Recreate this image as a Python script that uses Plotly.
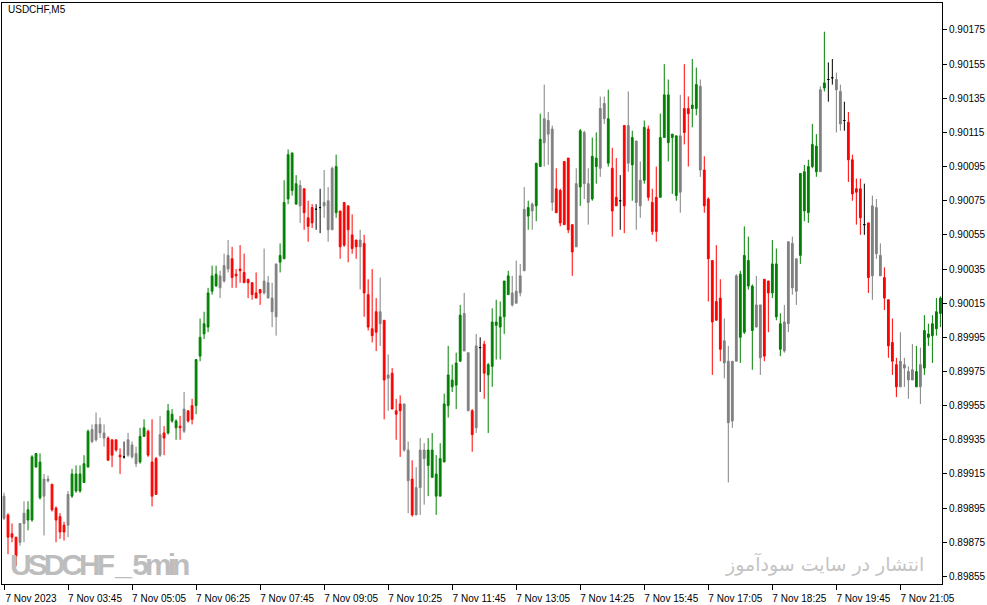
import plotly.graph_objects as go

# ---------------- data (USDCHF M5, 7 Nov 2023, bars from 02:25) ----------------
bar_color = list(
    "nrrrnngggg" "nnrrrrnggg" "ggnnnnrrrr" "dnnnggrrrn" "rgggrnrrgg"
    "ggggnnnrrr" "rrrrrnnnng" "ggggnrrrdd" "nnngrrrrrn" "rrrrnrnrrr"
    "nnrnnngggg" "gggggnnrnd" "rggggggnnn" "ngnggnnnrr" "rrrngnnggn"
    "ngrrdrngnn" "grrrgggggn" "rrggnrrrrr" "nnnnggggnn" "rrgggnnnng"
    "ggggngddnn" "drrrrdrnnn" "rrrrnnnngn" "ggggg"
)

open_ = [
    0.89902, 0.89891, 0.89880, 0.89878, 0.89875, 0.89886, 0.89888, 0.89888, 0.89919, 0.89922,
    0.89902, 0.89912, 0.89909, 0.89895, 0.89890, 0.89885, 0.89885, 0.89902, 0.89915, 0.89905,
    0.89910, 0.89919, 0.89941, 0.89935, 0.89944, 0.89939, 0.89936, 0.89935, 0.89935, 0.89926,
    0.89925, 0.89926, 0.89932, 0.89927, 0.89922, 0.89937, 0.89940, 0.89922, 0.89903, 0.89926,
    0.89939, 0.89939, 0.89946, 0.89946, 0.89943, 0.89940, 0.89952, 0.89955, 0.89955, 0.89984,
    0.89997, 0.90001, 0.90022, 0.90025, 0.90031, 0.90028, 0.90035, 0.90041, 0.90032, 0.90035,
    0.90033, 0.90029, 0.90027, 0.90021, 0.90023, 0.90021, 0.90027, 0.90018, 0.90007, 0.90039,
    0.90041, 0.90076, 0.90103, 0.90085, 0.90072, 0.90082, 0.90065, 0.90071, 0.90070, 0.90071,
    0.90072, 0.90075, 0.90058, 0.90095, 0.90069, 0.90074, 0.90072, 0.90055, 0.90052, 0.90048,
    0.90050, 0.90020, 0.90000, 0.90010, 0.90003, 0.90005, 0.89971, 0.89974, 0.89952, 0.89956,
    0.89956, 0.89929, 0.89912, 0.89891, 0.89907, 0.89929, 0.89920, 0.89929, 0.89915, 0.89902,
    0.89922, 0.89955, 0.89970, 0.89967, 0.89981, 0.90009, 0.89986, 0.89952, 0.89942, 0.89989,
    0.89991, 0.89973, 0.89978, 0.90002, 0.90001, 0.90007, 0.90020, 0.90021, 0.90015, 0.90021,
    0.90034, 0.90066, 0.90069, 0.90072, 0.90095, 0.90109, 0.90122, 0.90117, 0.90082, 0.90081,
    0.90098, 0.90100, 0.90061, 0.90048, 0.90083, 0.90115, 0.90085, 0.90076, 0.90100, 0.90094,
    0.90123, 0.90123, 0.90094, 0.90077, 0.90075, 0.90072, 0.90119, 0.90096, 0.90110, 0.90072,
    0.90087, 0.90117, 0.90074, 0.90077, 0.90077, 0.90112, 0.90137, 0.90112, 0.90113, 0.90080,
    0.90129, 0.90129, 0.90129, 0.90129, 0.90142, 0.90093, 0.90076, 0.90040, 0.90016, 0.90018,
    0.89993, 0.89981, 0.89946, 0.89981, 0.90032, 0.89998, 0.90040, 0.90025, 0.90001, 0.90014,
    0.90029, 0.90028, 0.90021, 0.90038, 0.90003, 0.89987, 0.90003, 0.90050, 0.90041, 0.90043,
    0.90092, 0.90068, 0.90095, 0.90107, 0.90092, 0.90141, 0.90146, 0.90147, 0.90146, 0.90139,
    0.90122, 0.90121, 0.90099, 0.90082, 0.90082, 0.90061, 0.90062, 0.90031, 0.90071, 0.90043,
    0.90030, 0.90017, 0.89992, 0.89979, 0.89966, 0.89979, 0.89975, 0.89970, 0.89975, 0.89966,
    0.89977, 0.89997, 0.89996, 0.90000, 0.90009,
]

high = [
    0.89904, 0.89892, 0.89886, 0.89878, 0.89886, 0.89899, 0.89899, 0.89926, 0.89927, 0.89927,
    0.89915, 0.89914, 0.89909, 0.89896, 0.89892, 0.89887, 0.89905, 0.89918, 0.89920, 0.89920,
    0.89926, 0.89941, 0.89944, 0.89951, 0.89948, 0.89944, 0.89937, 0.89935, 0.89935, 0.89930,
    0.89934, 0.89939, 0.89934, 0.89931, 0.89942, 0.89947, 0.89941, 0.89947, 0.89925, 0.89949,
    0.89943, 0.89956, 0.89953, 0.89947, 0.89949, 0.89963, 0.89952, 0.89959, 0.89982, 0.90006,
    0.90010, 0.90024, 0.90037, 0.90037, 0.90034, 0.90044, 0.90052, 0.90048, 0.90035, 0.90049,
    0.90044, 0.90029, 0.90027, 0.90033, 0.90023, 0.90047, 0.90031, 0.90027, 0.90038, 0.90050,
    0.90087, 0.90105, 0.90103, 0.90090, 0.90087, 0.90082, 0.90075, 0.90073, 0.90073, 0.90082,
    0.90093, 0.90083, 0.90095, 0.90102, 0.90069, 0.90074, 0.90072, 0.90067, 0.90052, 0.90058,
    0.90055, 0.90029, 0.90035, 0.90018, 0.90030, 0.90005, 0.89985, 0.89977, 0.89959, 0.89961,
    0.89956, 0.89934, 0.89923, 0.89919, 0.89936, 0.89933, 0.89936, 0.89939, 0.89926, 0.89933,
    0.89962, 0.89990, 0.89979, 0.89986, 0.90014, 0.90021, 0.89986, 0.89953, 0.89997, 0.89995,
    0.89993, 0.89980, 0.90012, 0.90017, 0.90016, 0.90028, 0.90034, 0.90031, 0.90040, 0.90038,
    0.90083, 0.90075, 0.90074, 0.90097, 0.90126, 0.90143, 0.90127, 0.90119, 0.90094, 0.90082,
    0.90098, 0.90100, 0.90061, 0.90094, 0.90117, 0.90116, 0.90094, 0.90112, 0.90115, 0.90136,
    0.90136, 0.90140, 0.90106, 0.90100, 0.90090, 0.90119, 0.90139, 0.90116, 0.90110, 0.90098,
    0.90122, 0.90119, 0.90082, 0.90095, 0.90126, 0.90155, 0.90146, 0.90114, 0.90113, 0.90137,
    0.90155, 0.90136, 0.90158, 0.90153, 0.90146, 0.90101, 0.90077, 0.90040, 0.90049, 0.90029,
    0.90006, 0.89990, 0.89981, 0.90032, 0.90034, 0.90060, 0.90054, 0.90026, 0.90031, 0.90014,
    0.90029, 0.90028, 0.90052, 0.90047, 0.90009, 0.90014, 0.90051, 0.90054, 0.90041, 0.90091,
    0.90096, 0.90099, 0.90120, 0.90114, 0.90142, 0.90174, 0.90156, 0.90158, 0.90150, 0.90143,
    0.90133, 0.90127, 0.90102, 0.90088, 0.90088, 0.90085, 0.90062, 0.90078, 0.90076, 0.90050,
    0.90036, 0.90017, 0.90006, 0.89983, 0.89998, 0.89983, 0.89978, 0.89991, 0.89990, 0.89989,
    0.90008, 0.90003, 0.90008, 0.90018, 0.90019,
]

low = [
    0.89888, 0.89868, 0.89875, 0.89861, 0.89873, 0.89875, 0.89882, 0.89887, 0.89919, 0.89900,
    0.89879, 0.89910, 0.89893, 0.89875, 0.89877, 0.89876, 0.89878, 0.89901, 0.89904, 0.89904,
    0.89910, 0.89919, 0.89933, 0.89934, 0.89936, 0.89931, 0.89923, 0.89919, 0.89928, 0.89915,
    0.89924, 0.89925, 0.89924, 0.89919, 0.89921, 0.89937, 0.89925, 0.89896, 0.89903, 0.89925,
    0.89926, 0.89938, 0.89945, 0.89935, 0.89935, 0.89939, 0.89945, 0.89944, 0.89950, 0.89981,
    0.89994, 0.89998, 0.90020, 0.90025, 0.90018, 0.90027, 0.90033, 0.90024, 0.90024, 0.90027,
    0.90027, 0.90018, 0.90017, 0.90018, 0.90014, 0.90020, 0.90018, 0.90001, 0.89996, 0.90033,
    0.90041, 0.90073, 0.90078, 0.90073, 0.90062, 0.90058, 0.90051, 0.90059, 0.90058, 0.90056,
    0.90065, 0.90051, 0.90058, 0.90065, 0.90041, 0.90048, 0.90039, 0.90044, 0.90041, 0.90023,
    0.90007, 0.89999, 0.89992, 0.89987, 0.89990, 0.89947, 0.89952, 0.89953, 0.89935, 0.89925,
    0.89928, 0.89892, 0.89890, 0.89891, 0.89891, 0.89897, 0.89902, 0.89913, 0.89891, 0.89902,
    0.89922, 0.89948, 0.89963, 0.89953, 0.89981, 0.89987, 0.89952, 0.89928, 0.89939, 0.89963,
    0.89959, 0.89939, 0.89966, 0.89982, 0.89982, 0.89997, 0.90020, 0.90013, 0.90015, 0.90019,
    0.90034, 0.90058, 0.90058, 0.90063, 0.90095, 0.90095, 0.90096, 0.90069, 0.90068, 0.90060,
    0.90061, 0.90056, 0.90031, 0.90048, 0.90072, 0.90076, 0.90061, 0.90075, 0.90085, 0.90089,
    0.90120, 0.90095, 0.90054, 0.90072, 0.90058, 0.90056, 0.90092, 0.90075, 0.90058, 0.90065,
    0.90085, 0.90075, 0.90055, 0.90051, 0.90077, 0.90112, 0.90098, 0.90079, 0.90075, 0.90068,
    0.90108, 0.90095, 0.90118, 0.90125, 0.90089, 0.90068, 0.90016, 0.89973, 0.90005, 0.89981,
    0.89971, 0.89910, 0.89942, 0.89981, 0.89980, 0.89997, 0.90023, 0.89976, 0.90001, 0.89973,
    0.89981, 0.89998, 0.90018, 0.90005, 0.89984, 0.89986, 0.89998, 0.90020, 0.90014, 0.90038,
    0.90063, 0.90062, 0.90094, 0.90089, 0.90092, 0.90139, 0.90133, 0.90143, 0.90115, 0.90116,
    0.90116, 0.90086, 0.90075, 0.90061, 0.90055, 0.90055, 0.90021, 0.90017, 0.90041, 0.90031,
    0.90011, 0.89983, 0.89973, 0.89960, 0.89966, 0.89966, 0.89959, 0.89970, 0.89966, 0.89956,
    0.89973, 0.89990, 0.89980, 0.89996, 0.90001,
]

close = [
    0.89889, 0.89878, 0.89878, 0.89867, 0.89886, 0.89892, 0.89894, 0.89925, 0.89927, 0.89901,
    0.89912, 0.89911, 0.89894, 0.89888, 0.89881, 0.89881, 0.89903, 0.89915, 0.89905, 0.89915,
    0.89921, 0.89940, 0.89934, 0.89944, 0.89939, 0.89936, 0.89923, 0.89926, 0.89929, 0.89925,
    0.89925, 0.89935, 0.89925, 0.89921, 0.89937, 0.89942, 0.89926, 0.89902, 0.89924, 0.89938,
    0.89936, 0.89952, 0.89950, 0.89942, 0.89942, 0.89953, 0.89946, 0.89947, 0.89982, 0.89995,
    0.90003, 0.90021, 0.90031, 0.90032, 0.90024, 0.90037, 0.90043, 0.90030, 0.90031, 0.90034,
    0.90027, 0.90027, 0.90020, 0.90018, 0.90021, 0.90028, 0.90018, 0.90010, 0.90038, 0.90043,
    0.90074, 0.90102, 0.90081, 0.90073, 0.90084, 0.90068, 0.90060, 0.90062, 0.90070, 0.90071,
    0.90074, 0.90058, 0.90094, 0.90068, 0.90048, 0.90049, 0.90058, 0.90047, 0.90048, 0.90052,
    0.90021, 0.90001, 0.89996, 0.89998, 0.90010, 0.89970, 0.89973, 0.89953, 0.89950, 0.89952,
    0.89929, 0.89911, 0.89891, 0.89907, 0.89929, 0.89924, 0.89929, 0.89913, 0.89902, 0.89924,
    0.89956, 0.89973, 0.89966, 0.89980, 0.90008, 0.89987, 0.89952, 0.89938, 0.89990, 0.89989,
    0.89974, 0.89979, 0.90004, 0.90004, 0.90007, 0.90028, 0.90031, 0.90014, 0.90022, 0.90031,
    0.90070, 0.90071, 0.90073, 0.90097, 0.90111, 0.90123, 0.90114, 0.90074, 0.90068, 0.90062,
    0.90061, 0.90058, 0.90045, 0.90085, 0.90116, 0.90085, 0.90074, 0.90101, 0.90095, 0.90129,
    0.90132, 0.90097, 0.90069, 0.90072, 0.90075, 0.90119, 0.90097, 0.90112, 0.90074, 0.90087,
    0.90118, 0.90077, 0.90057, 0.90057, 0.90112, 0.90137, 0.90109, 0.90114, 0.90078, 0.90113,
    0.90115, 0.90126, 0.90131, 0.90143, 0.90093, 0.90072, 0.90041, 0.90004, 0.90005, 0.89988,
    0.89980, 0.89945, 0.89981, 0.90031, 0.89995, 0.90043, 0.90025, 0.89999, 0.90014, 0.89983,
    0.89984, 0.90021, 0.90038, 0.90007, 0.89988, 0.90004, 0.90051, 0.90024, 0.90022, 0.90091,
    0.90069, 0.90095, 0.90108, 0.90092, 0.90140, 0.90144, 0.90146, 0.90147, 0.90140, 0.90120,
    0.90122, 0.90099, 0.90079, 0.90080, 0.90065, 0.90061, 0.90030, 0.90072, 0.90044, 0.90031,
    0.90018, 0.89990, 0.89981, 0.89966, 0.89981, 0.89977, 0.89970, 0.89976, 0.89966, 0.89979,
    0.89999, 0.89995, 0.90003, 0.90010, 0.90018,
]

tick_bars = [0, 16, 32, 48, 64, 80, 96, 112, 128, 144, 160, 176, 192, 208, 224]
tick_labels = [
    "7 Nov 2023", "7 Nov 03:45", "7 Nov 05:05", "7 Nov 06:25", "7 Nov 07:45",
    "7 Nov 09:05", "7 Nov 10:25", "7 Nov 11:45", "7 Nov 13:05", "7 Nov 14:25",
    "7 Nov 15:45", "7 Nov 17:05", "7 Nov 18:25", "7 Nov 19:45", "7 Nov 21:05",
]

# ---------------- figure ----------------
palette = {"g": "#008000", "r": "#ff0000", "n": "#808080", "d": "#000000"}
fig = go.Figure()
for key, col in palette.items():
    idx = [i for i, c in enumerate(bar_color) if c == key]
    style = dict(line=dict(color=col, width=1), fillcolor=col)
    fig.add_trace(go.Candlestick(
        x=idx,
        open=[open_[i] for i in idx],
        high=[high[i] for i in idx],
        low=[low[i] for i in idx],
        close=[close[i] for i in idx],
        increasing=style, decreasing=style,
        whiskerwidth=0, hoverinfo="skip", showlegend=False,
    ))

axis_font = dict(family="Liberation Sans, Arial, sans-serif", size=10, color="black")

fig.update_layout(
    width=987, height=605,
    margin=dict(l=2, r=45, t=3, b=21, autoexpand=False),
    paper_bgcolor="white", plot_bgcolor="white",
    showlegend=False, boxgap=0.36,
    xaxis=dict(
        range=[-0.5, 234.4], rangeslider=dict(visible=False),
        tickmode="array", tickvals=tick_bars, ticktext=tick_labels,
        ticks="outside", ticklen=5, tickcolor="black", tickwidth=1,
        showline=True, mirror=True, linecolor="black", linewidth=1,
        showgrid=False, zeroline=False, tickfont=axis_font,
        ticklabelshift=27, automargin=False,
    ),
    yaxis=dict(
        side="right", range=[0.8985055, 0.901908],
        tickmode="linear", tick0=0.89855, dtick=0.0002, tickformat=".5f",
        ticks="outside", ticklen=4, tickcolor="black", tickwidth=1,
        showline=True, mirror=True, linecolor="black", linewidth=1,
        showgrid=False, zeroline=False, tickfont=axis_font, automargin=False,
    ),
)

fig.add_annotation(
    text="USDCHF,M5", xref="paper", yref="paper", x=0.004, y=0.988,
    xanchor="left", yanchor="middle", showarrow=False,
    font=dict(family="Liberation Sans, Arial, sans-serif", size=10, color="black"),
)
fig.add_annotation(
    text="<b><span style='letter-spacing:-4px'>USDCHF _ 5min</span></b>",
    xref="paper", yref="paper", x=0.006, y=0.034,
    xanchor="left", yanchor="middle", showarrow=False,
    font=dict(family="Liberation Sans, Arial, sans-serif", size=30, color="#bdbdbd"),
)
fig.add_annotation(
    text="انتشار در سایت سودآموز", xref="paper", yref="paper", x=0.983, y=0.034,
    xanchor="right", yanchor="middle", showarrow=False,
    font=dict(family="DejaVu Sans, sans-serif", size=19, color="#c4c4c4"),
)

fig.write_html(
    "out.html",
    config={"displayModeBar": False},
    post_script="document.body.style.margin='0';document.body.style.padding='0';",
)
